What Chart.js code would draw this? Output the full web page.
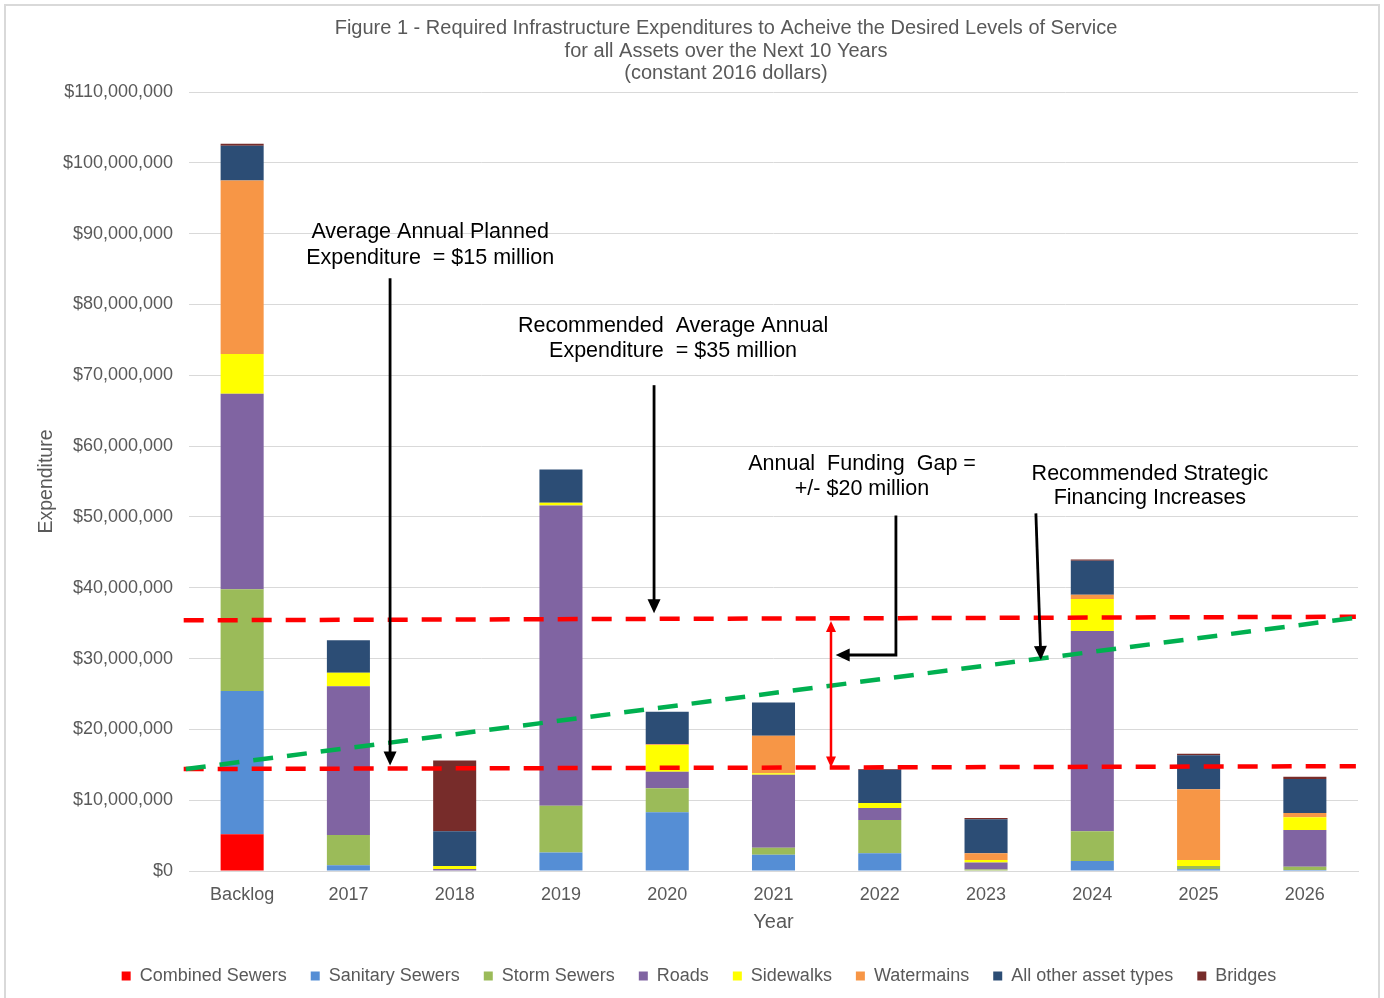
<!DOCTYPE html>
<html>
<head>
<meta charset="utf-8">
<title>Required Infrastructure Expenditures</title>
<script src="https://cdn.jsdelivr.net/npm/chart.js@4.4.1/dist/chart.umd.min.js"></script>
<style>
  html, body { margin:0; padding:0; background:#fff; }
  #wrap { position:relative; width:1384px; height:998px; overflow:hidden; }
  #wrap::after { content:''; position:absolute; left:4px; top:4px; width:1372px; height:1000px; border:2px solid #d9d9d9; pointer-events:none; }
</style>
</head>
<body>
<div id="wrap"><canvas id="chart" width="1384" height="998"></canvas></div>
<script>
/* expenditure by asset group, $ millions (constant 2016 dollars) */
const years          = ['Backlog','2017','2018','2019','2020','2021','2022','2023','2024','2025','2026'];
const combinedSewers = [5.2, 0,   0,    0,    0,   0,    0,   0,    0,    0,    0];
const sanitarySewers = [20.2,0.8, 0,    2.6,  8.3, 2.3,  2.5, 0,    1.4,  0.25, 0.15];
const stormSewers    = [14.4,4.3, 0,    6.6,  3.4, 1.0,  4.7, 0.2,  4.2,  0.45, 0.45];
const roads          = [27.6,21.0,0.3,  42.4, 2.3, 10.3, 1.7, 1.0,  28.3, 0,    5.2];
const sidewalks      = [5.6, 1.9, 0.4,  0.4,  3.8, 0.2,  0.7, 0.35, 4.5,  0.85, 1.8];
const watermains     = [24.5,0,   0,    0,    0.1, 5.3,  0,   0.95, 0.6,  10.0, 0.6];
const otherAssets    = [4.9, 4.6, 4.9,  4.7,  4.6, 4.7,  4.7, 4.8,  4.8,  4.8,  4.8];
const bridges        = [0.3, 0,   10.0, 0,    0,   0,    0.1, 0.2,  0.2,  0.2,  0.3];

const yTicks = [0,10,20,30,40,50,60,70,80,90,100,110];   // $ millions

const titleLines = [
  'Figure 1 - Required Infrastructure Expenditures to Acheive the Desired Levels of Service',
  'for all Assets over the Next 10 Years',
  '(constant 2016 dollars)'
];

const M = 1e6;
const TXT = '#595959';
const FONT = '"Liberation Sans", Arial, sans-serif';

// planned / recommended levels and the financing ramp, [category index, $M]
const levelLines = [
  { from:[-0.55, 35.4], to:[10.48, 35.9], color:'#ff0000' },
  { from:[-0.55, 14.4], to:[10.48, 14.8], color:'#ff0000' },
  { from:[-0.53, 14.4], to:[10.50, 35.8], color:'#00b050' }
];
const pointers = [
  [[1.392, 83.7], [1.392, 14.9]],
  [[3.876, 68.6], [3.876, 36.4]],
  [[6.152, 50.2], [6.152, 30.5], [5.585, 30.5]],
  [[7.469, 50.5], [7.516, 29.8]]
];
const gapArrow = { x:5.541, top:35.3, bottom:14.6 };
const notes = [
  { x:1.769, y:[90.2, 86.6], lines:['Average Annual Planned', 'Expenditure  = $15 million'] },
  { x:4.055, y:[76.9, 73.4], lines:['Recommended  Average Annual', 'Expenditure  = $35 million'] },
  { x:5.833, y:[57.5, 54.0], lines:['Annual  Funding  Gap =', '+/- $20 million'] },
  { x:8.542, y:[56.1, 52.6], lines:['Recommended Strategic', 'Financing Increases'] }
];

function series(label, values, color){
  return { label, data: values.map(v => v * M), backgroundColor: color, borderWidth: 0 };
}

function arrowHead(ctx, x0, y0, x1, y1, len, half){
  const a = Math.atan2(y1 - y0, x1 - x0);
  ctx.beginPath();
  ctx.moveTo(x1, y1);
  ctx.lineTo(x1 - len*Math.cos(a) + half*Math.sin(a), y1 - len*Math.sin(a) - half*Math.cos(a));
  ctx.lineTo(x1 - len*Math.cos(a) - half*Math.sin(a), y1 - len*Math.sin(a) + half*Math.cos(a));
  ctx.closePath();
  ctx.fill();
}

const overlay = {
  id: 'overlay',
  afterLayout(chart){
    // nudge the legend row a little right and down
    const lg = chart.legend;
    lg.left += 20; lg.right += 20;
    lg.top += 2;  lg.bottom += 2;
  },
  afterDatasetsDraw(chart){
    const {ctx, scales:{x, y}} = chart;
    const px = v => x.getPixelForValue(v);
    const py = v => y.getPixelForValue(v * M);
    ctx.save();

    // dashed level lines
    ctx.lineWidth = 4.5;
    ctx.setLineDash([20, 14]);
    levelLines.forEach(l => {
      ctx.strokeStyle = l.color;
      ctx.beginPath();
      ctx.moveTo(px(l.from[0]), py(l.from[1]));
      ctx.lineTo(px(l.to[0]), py(l.to[1]));
      ctx.stroke();
    });
    ctx.setLineDash([]);

    // call-out arrows
    ctx.strokeStyle = '#000';
    ctx.fillStyle = '#000';
    ctx.lineWidth = 2.8;
    pointers.forEach(p => {
      const pts = p.map(([a, b]) => [px(a), py(b)]);
      const n = pts.length;
      const [ax, ay] = pts[n-2], [bx, by] = pts[n-1];
      const a = Math.atan2(by - ay, bx - ax);
      ctx.beginPath();
      ctx.moveTo(pts[0][0], pts[0][1]);
      for (let i = 1; i < n - 1; i++) ctx.lineTo(pts[i][0], pts[i][1]);
      ctx.lineTo(bx - 10*Math.cos(a), by - 10*Math.sin(a));
      ctx.stroke();
      arrowHead(ctx, ax, ay, bx, by, 14, 6.5);
    });

    // funding gap span
    const gx = px(gapArrow.x), gt = py(gapArrow.top), gb = py(gapArrow.bottom);
    ctx.strokeStyle = '#ff0000';
    ctx.fillStyle = '#ff0000';
    ctx.lineWidth = 2.5;
    ctx.beginPath();
    ctx.moveTo(gx, gt + 8);
    ctx.lineTo(gx, gb - 8);
    ctx.stroke();
    arrowHead(ctx, gx, gb, gx, gt, 11, 5);
    arrowHead(ctx, gx, gt, gx, gb, 11, 5);

    // note text
    ctx.fillStyle = '#000';
    ctx.font = '21.5px ' + FONT;
    ctx.textAlign = 'center';
    ctx.textBaseline = 'middle';
    notes.forEach(n => n.lines.forEach((t, i) => ctx.fillText(t, px(n.x), py(n.y[i]))));
    ctx.restore();
  },
  afterDraw(chart){
    const ctx = chart.ctx;
    ctx.save();
    ctx.fillStyle = TXT;
    ctx.font = '20px ' + FONT;
    ctx.textAlign = 'center';
    ctx.textBaseline = 'middle';
    titleLines.forEach((t, i) => ctx.fillText(t, 726, 28.5 + i * 22.5));
    ctx.restore();
  }
};

new Chart(document.getElementById('chart'), {
  type: 'bar',
  data: {
    labels: years,
    datasets: [
      series('Combined Sewers', combinedSewers, '#ff0000'),
      series('Sanitary Sewers', sanitarySewers, '#558ed5'),
      series('Storm Sewers', stormSewers, '#9bbb59'),
      series('Roads', roads, '#8064a2'),
      series('Sidewalks', sidewalks, '#ffff00'),
      series('Watermains', watermains, '#f79646'),
      series('All other asset types', otherAssets, '#2c4d75'),
      series('Bridges', bridges, '#772c2a')
    ]
  },
  options: {
    responsive: false,
    animation: false,
    layout: { padding: { top: 92, right: 26, bottom: 5, left: 0 } },
    datasets: { bar: { categoryPercentage: 1, barPercentage: 0.405 } },
    plugins: {
      tooltip: { enabled: false },
      title: { display: false },
      legend: {
        position: 'bottom',
        labels: {
          boxWidth: 9, boxHeight: 9, padding: 24, color: TXT,
          font: { family: FONT, size: 18 }
        }
      }
    },
    scales: {
      x: {
        stacked: true,
        afterFit: s => { s.height = 70; },
        grid: { display: false, drawTicks: false },
        border: { color: '#d9d9d9', width: 1 },
        ticks: { color: TXT, padding: 13, font: { family: FONT, size: 18 } },
        title: { display: true, text: 'Year', color: TXT, padding: { top: 0, bottom: 7 }, font: { family: FONT, size: 20 } }
      },
      y: {
        stacked: true,
        min: 0,
        max: yTicks[yTicks.length - 1] * M,
        afterFit: s => { s.width = 189; },
        afterBuildTicks: s => { s.ticks = yTicks.map(v => ({ value: v * M })); },
        grid: { color: '#d9d9d9', lineWidth: 1, drawTicks: false },
        border: { display: false },
        ticks: {
          color: TXT, padding: 16, font: { family: FONT, size: 18 },
          callback: v => '$' + Number(v).toLocaleString('en-US')
        },
        title: { display: true, text: 'Expenditure', color: TXT, padding: { top: 35, bottom: 0 }, font: { family: FONT, size: 19.5 } }
      }
    }
  },
  plugins: [overlay]
});
</script>
</body>
</html>
